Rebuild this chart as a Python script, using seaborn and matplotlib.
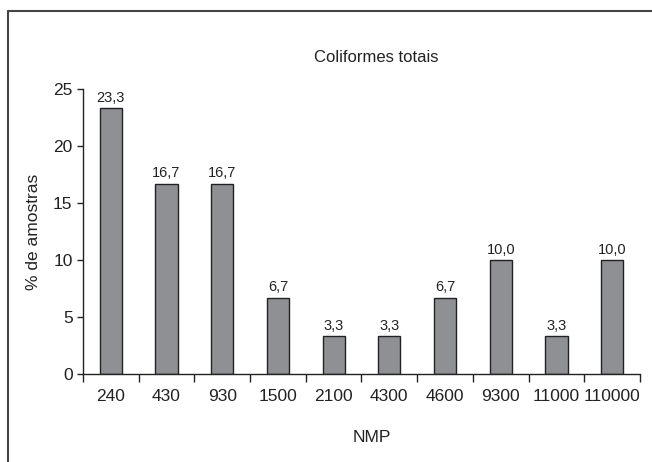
import matplotlib
matplotlib.use("Agg")
import matplotlib.pyplot as plt
import seaborn as sns
import pandas as pd
from matplotlib.lines import Line2D

categories = ["240", "430", "930", "1500", "2100", "4300", "4600", "9300", "11000", "110000"]
values = [23.3, 16.7, 16.7, 6.7, 3.3, 3.3, 6.7, 10.0, 3.3, 10.0]
labels = ["23,3", "16,7", "16,7", "6,7", "3,3", "3,3", "6,7", "10,0", "3,3", "10,0"]
yticks = [0, 5, 10, 15, 20, 25]

sns.set_style("white")
plt.rcParams["font.family"] = ["Liberation Sans", "DejaVu Sans"]

df = pd.DataFrame({"NMP": categories, "pct": values})

fig = plt.figure(figsize=(6.52, 4.62), dpi=100)
ax = fig.add_axes([83/652, 1-374/462, (640-83)/652, (374-89)/462])

sns.barplot(data=df, x="NMP", y="pct", order=categories, color="#8f9094",
            saturation=1, width=0.4, edgecolor="#222222", linewidth=1.0, ax=ax)

for i, (v, t) in enumerate(zip(values, labels)):
    ax.text(i, v + 0.3, t, ha="center", va="bottom", fontsize=10.5, color="#222222")

ax.set_xlim(-0.5, len(categories) - 0.5)
ax.set_ylim(0, 25)
ax.set_yticks(yticks)
ax.set_yticklabels([str(t) for t in yticks])
ax.set_xticks(range(len(categories)))
ax.set_xticklabels(categories)
ax.tick_params(axis="x", length=0, labelsize=12.5, pad=11, colors="#222222")
ax.tick_params(axis="y", length=4, width=1, labelsize=12.5, colors="#222222", left=True, direction="out")
# x boundary ticks
ax.set_xticks([i - 0.5 for i in range(len(categories) + 1)], minor=True)
ax.tick_params(axis="x", which="minor", length=6, width=1, bottom=True, direction="out", color="#222222")

for s in ["top", "right"]:
    ax.spines[s].set_visible(False)
for s in ["left", "bottom"]:
    ax.spines[s].set_color("#222222")
    ax.spines[s].set_linewidth(1.0)

ax.set_xlabel("")
ax.set_ylabel("")
fig.text(33/652, 1-232/462, "% de amostras", rotation=90, ha="center", va="center", fontsize=12.5, color="#222222")
fig.text(372/652, 1-437/462, "NMP", ha="center", va="center", fontsize=12.5, color="#222222")
fig.text(376/652, 1-57/462, "Coliformes totais", ha="center", va="center", fontsize=12, color="#222222")

# outer frame (left and top only visible)
fig.add_artist(Line2D([8/652, 8/652], [0, 1-11/462], transform=fig.transFigure, color="#444444", lw=1.5))
fig.add_artist(Line2D([8/652, 1], [1-11/462, 1-11/462], transform=fig.transFigure, color="#444444", lw=1.5))

fig.savefig("out.png", dpi=100)
